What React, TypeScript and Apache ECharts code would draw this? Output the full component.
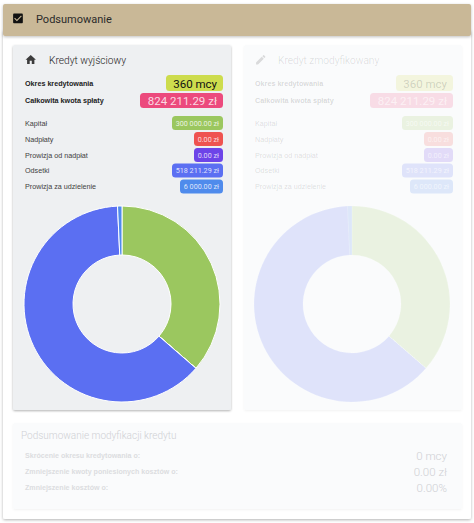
import React, { useEffect, useRef } from "react";
import * as echarts from "echarts";

const HOME = "M10 20v-6h4v6h5v-8h3L12 3 2 12h3v8z";
const EDIT = "M3 17.25V21h3.75L17.81 9.94l-3.75-3.75L3 17.25zM20.71 7.04c.39-.39.39-1.02 0-1.41l-2.34-2.34c-.39-.39-1.02-.39-1.41 0l-1.83 1.83 3.75 3.75 1.83-1.83z";
const CHECK = "M19 3H5c-1.11 0-2 .9-2 2v14c0 1.1.89 2 2 2h14c1.11 0 2-.9 2-2V5c0-1.1-.89-2-2-2zm-9 14l-5-5 1.41-1.41L10 14.17l7.59-7.59L19 8l-9 9z";
echarts.graphic.registerShape("iconHome", echarts.graphic.extendPath(HOME, {}));
echarts.graphic.registerShape("iconEdit", echarts.graphic.extendPath(EDIT, {}));
echarts.graphic.registerShape("iconCheck", echarts.graphic.extendPath(CHECK, {}));

const pageTitle = "Podsumowanie";
const cardTitles = ["Kredyt wyjściowy", "Kredyt zmodyfikowany"];
const headLabels = ["Okres kredytowania", "Całkowita kwota spłaty"];
const headValues = ["360 mcy", "824 211.29 zł"];
const categories = ["Kapitał", "Nadpłaty", "Prowizja od nadpłat", "Odsetki", "Prowizja za udzielenie"];
const amounts = [300000.0, 0.0, 0.0, 518211.29, 6000.0];
const amountLabels = ["300 000.00 zł", "0.00 zł", "0.00 zł", "518 211.29 zł", "6 000.00 zł"];
const summaryTitle = "Podsumowanie modyfikacji kredytu";
const summaryLabels = ["Skrócenie okresu kredytowania o:", "Zmniejszenie kwoty poniesionych kosztów o:", "Zmniejszenie kosztów o:"];
const summaryValues = ["0 mcy", "0.00 zł", "0.00%"];

const colors = ["#9bc75f", "#ef5350", "#6d44e8", "#5b6ff2", "#4f8bec"];
const pillWidths = [51, 29, 29, 51, 43];
const pillYs = [116, 132, 148, 163.5, 179.5];
const FONT = "Roboto";
const SANS = "Liberation Sans";
const FADE = 0.17;

function card(dx: number, icon: string, title: string, fade: number) {
  const right = 223 + dx;
  const left = 25 + dx;
  const onPill = fade < 1 ? 0.6 : 0.8;
  const children: any[] = [
    { type: icon, x: left - 0.5, y: 53.5, scaleX: 0.52, scaleY: 0.52, style: { fill: "#3c3c3c", opacity: fade } },
    { type: "text", x: 49 + dx - (dx ? 1 : 0), y: 60, style: { text: title, font: `300 10.2px ${FONT}`, fill: "#222", verticalAlign: "middle", opacity: fade } },
  ];
  headLabels.forEach((t, i) => {
    children.push({ type: "text", x: left, y: i ? 100.5 : 83, style: { text: t, font: `bold 7.2px ${SANS}`, fill: "#1c1c1c", verticalAlign: "middle", opacity: fade } });
  });
  const heads = [
    { x: 166, y: 75, w: 57, h: 16, c: "#cddc4d", f: "#111", o: fade },
    { x: 140, y: 93, w: 83, h: 15, c: "#ec4a7d", f: "#fff", o: onPill },
  ];
  heads.forEach((h, i) => {
    children.push({ type: "rect", shape: { x: h.x + dx, y: h.y, width: h.w, height: h.h, r: 3.5 }, style: { fill: h.c, opacity: fade } });
    children.push({ type: "text", x: h.x + dx + h.w - 6, y: h.y + h.h / 2 + 0.5, style: { text: headValues[i], font: `11.5px ${FONT}`, fill: h.f, align: "right", verticalAlign: "middle", opacity: h.o } });
  });
  categories.forEach((t, i) => {
    children.push({ type: "text", x: left, y: pillYs[i] + 7, style: { text: t, font: `7.2px ${SANS}`, fill: "#3f3f3f", verticalAlign: "middle", opacity: fade } });
    children.push({ type: "rect", shape: { x: right - pillWidths[i], y: pillYs[i], width: pillWidths[i], height: 14, r: 3.5 }, style: { fill: colors[i], opacity: fade } });
    children.push({ type: "text", x: right - 4, y: pillYs[i] + 7, style: { text: amountLabels[i], font: `7.2px ${FONT}`, fill: "#ffffff", align: "right", verticalAlign: "middle", opacity: onPill } });
  });
  children.forEach((c) => { c.z = 3; });
  return children;
}

function pie(cx: number, opacity: number) {
  return {
    type: "pie",
    center: [cx, 304],
    radius: [49, 98],
    startAngle: 90,
    clockwise: true,
    silent: true,
    label: { show: false },
    labelLine: { show: false },
    stillShowZeroSum: false,
    itemStyle: { borderColor: "#ffffff", borderWidth: 1, opacity },
    data: categories.map((name, i) => ({ name, value: amounts[i], itemStyle: { color: colors[i] } })),
  };
}

export default function App() {
  const ref = useRef<HTMLDivElement>(null);
  useEffect(() => {
    document.body.style.margin = "0";
    document.body.style.background = "#fff";
    const chart = echarts.init(ref.current!, undefined, { renderer: "svg" });
    const elements: any[] = [
      { type: "rect", z: 0, shape: { x: 3, y: 30, width: 468, height: 489, r: 2 }, style: { fill: "#fff", shadowBlur: 3, shadowColor: "rgba(0,0,0,0.3)", shadowOffsetY: 1 } },
      { type: "rect", z: 1, shape: { x: 3, y: 4, width: 468, height: 32, r: 2 }, style: { fill: "#c9b897", shadowBlur: 3, shadowColor: "rgba(0,0,0,0.25)", shadowOffsetY: 1 } },
      { type: "iconCheck", z: 2, x: 11.5, y: 12, scaleX: 0.54, scaleY: 0.54, style: { fill: "#111" } },
      { type: "text", z: 2, x: 36, y: 19.5, style: { text: pageTitle, font: `11px ${FONT}`, fill: "#2a2a2a", verticalAlign: "middle" } },
      { type: "rect", z: 1, shape: { x: 13, y: 45, width: 218, height: 365, r: 2 }, style: { fill: "#eef0f2", shadowBlur: 2, shadowColor: "rgba(0,0,0,0.3)", shadowOffsetY: 1 } },
      { type: "rect", z: 1, shape: { x: 244, y: 45, width: 218, height: 365, r: 2 }, style: { fill: "#fafbfc", shadowBlur: 2, shadowColor: "rgba(0,0,0,0.05)", shadowOffsetY: 1 } },
      { type: "rect", z: 1, shape: { x: 13, y: 423, width: 449, height: 86, r: 2 }, style: { fill: "#fafbfc", shadowBlur: 2, shadowColor: "rgba(0,0,0,0.05)", shadowOffsetY: 1 } },
      { type: "group", children: card(0, "iconHome", cardTitles[0], 1) },
      { type: "group", children: card(230, "iconEdit", cardTitles[1], FADE) },
      { type: "text", z: 2, x: 21, y: 435.5, style: { text: summaryTitle, font: `300 10px ${FONT}`, fill: "#cfd0d4", verticalAlign: "middle" } },
    ];
    summaryLabels.forEach((t, i) => {
      const y = 455.5 + i * 16;
      elements.push({ type: "text", z: 2, x: 25, y, style: { text: t, font: `bold 7.1px ${SANS}`, fill: "#dcdde0", verticalAlign: "middle" } });
      elements.push({ type: "text", z: 2, x: 447, y, style: { text: summaryValues[i], font: `300 11.5px ${FONT}`, fill: "#cfd0d4", align: "right", verticalAlign: "middle" } });
    });
    chart.setOption({
      animation: false,
      backgroundColor: "#ffffff",
      graphic: { elements },
      series: [pie(122, 1), pie(352, FADE)],
    });
    return () => chart.dispose();
  }, []);
  return <div ref={ref} style={{ position: "absolute", left: 0, top: 0, width: 474, height: 523 }} />;
}
